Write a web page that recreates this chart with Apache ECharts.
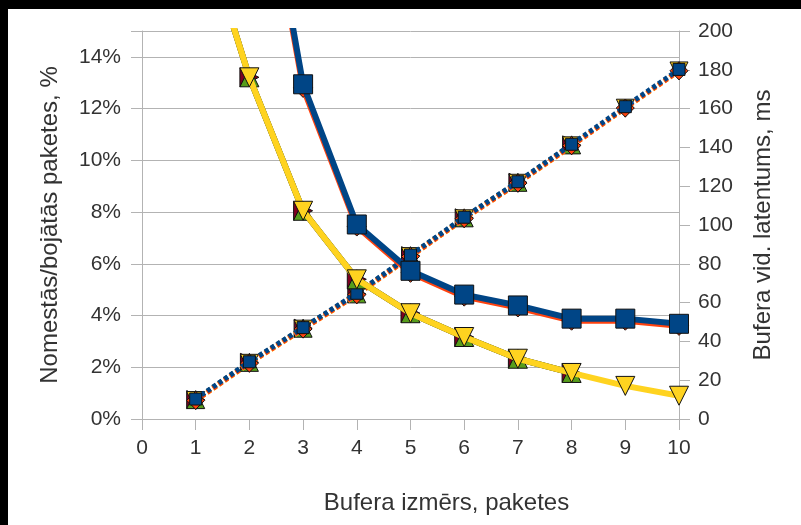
<!DOCTYPE html>
<html>
<head>
<meta charset="utf-8">
<script src="https://cdn.jsdelivr.net/npm/echarts@6/dist/echarts.min.js"></script>
<style>
html,body{margin:0;padding:0;background:#000;}
#wrap{position:absolute;left:0;top:0;width:801px;height:525px;background:#000;}
#chart{position:absolute;left:8px;top:9px;width:793px;height:516px;background:#fff;}
</style>
</head>
<body>
<div id="wrap"><div id="chart"></div></div>
<script>
// ---- data ----
const bufferSizes = [1, 2, 3, 4, 5, 6, 7, 8, 9, 10];
const xTicks = [0, 1, 2, 3, 4, 5, 6, 7, 8, 9, 10];
const leftTicks = [0, 2, 4, 6, 8, 10, 12, 14];
const rightTicks = [0, 20, 40, 60, 80, 100, 120, 140, 160, 180, 200];

// loss (%), left axis
const lossBlue   = [40, 24.6, 12.94, 7.52, 5.73, 4.81, 4.39, 3.88, 3.88, 3.68];
const lossOrange = [40, 24.3, 12.80, 7.44, 5.65, 4.73, 4.31, 3.80, 3.80, 3.60];
const lossYellow = [19.8, 13.21, 8.05, 5.40, 4.09, 3.17, 2.33, 1.78, 1.28, 0.90];
const lossGreen  = [19.8, 13.21, 8.05, 5.40, 4.09, 3.17, 2.33, 1.78];
const lossMaroon = [19.8, 13.21, 8.05, 5.40, 4.09, 3.17, 2.33, 1.78];

// latency (ms), right axis
const latBlue   = [10.3, 29.5, 47.1, 64.8, 84.5, 104.0, 122.3, 141.6, 161.0, 180.2];
const latOrange = [9.6, 28.8, 46.4, 64.1, 83.8, 103.3, 121.6, 140.9, 160.3, 179.5];
const latYellow = [9.5, 28.7, 46.3, 64.0, 83.7, 103.2, 121.5, 140.8, 160.2, 179.4];
const latGreen  = [10.0, 29.2, 46.8, 64.5, 84.2, 103.7, 122.0, 141.3];
const latMaroon = [10.0, 29.2, 46.8, 64.5, 84.2, 103.7, 122.0, 141.3];

const C = {blue:'#004586', orange:'#ff420e', yellow:'#ffd320', green:'#579d1c', maroon:'#7e0021'};
const SYM = {
  square: 'rect',
  diamond: 'diamond',
  down: 'path://M0,0 L10,0 L5,10 Z',
  up: 'path://M5,0 L10,10 L0,10 Z',
  right: 'path://M0,0 L10,5 L0,10 Z'
};
function pts(vals){ return vals.map((v,i)=>[bufferSizes[i], v]); }
function mk(vals, yIdx, color, symbol, size, width, dash, z){
  return {
    type:'line', yAxisIndex:yIdx, data:pts(vals), z:z,
    symbol:SYM[symbol], symbolSize:size, showSymbol:true,
    itemStyle:{color:color, borderColor:'#111', borderWidth:1, opacity:1},
    lineStyle:{color:color, width:width, type:dash || 'solid', cap:'butt', join:'round'},
    emphasis:{disabled:true}, animation:false, clip:true
  };
}

const font = '"Liberation Sans", Arial, sans-serif';
const txt = '#333333';
const gray = '#b3b3b3';

const chart = echarts.init(document.getElementById('chart'), null, {renderer:'canvas'});
chart.setOption({
  backgroundColor:'#ffffff',
  animation:false,
  grid:{left:134, right:122, top:22, bottom:106, containLabel:false},
  xAxis:{
    type:'value', min:xTicks[0], max:xTicks[xTicks.length-1], interval:1,
    name:'Bufera izmērs, paketes', nameLocation:'middle', nameGap:72,
    nameTextStyle:{fontFamily:font, fontSize:24, color:txt, padding:[0,0,0,72]},
    axisLine:{show:true, lineStyle:{color:gray, width:1}},
    axisTick:{show:true, length:11, lineStyle:{color:gray}},
    axisLabel:{margin:19, fontFamily:font, fontSize:21, color:txt},
    splitLine:{show:false}
  },
  yAxis:[
    {
      type:'value', position:'left', min:0, max:15, interval:2,
      name:'Nomestās/bojātās paketes, %', nameLocation:'middle', nameGap:80,
      nameTextStyle:{fontFamily:font, fontSize:24, color:txt},
      axisLine:{show:true, lineStyle:{color:gray, width:1}},
      axisTick:{show:true, length:11, lineStyle:{color:gray}},
      axisLabel:{margin:21, fontFamily:font, fontSize:21, color:txt,
        formatter:v => leftTicks.indexOf(v) >= 0 ? v + '%' : ''},
      splitLine:{show:true, lineStyle:{color:gray, width:1}}
    },
    {
      type:'value', position:'right', min:rightTicks[0], max:rightTicks[rightTicks.length-1], interval:20,
      name:'Bufera vid. latentums, ms', nameLocation:'middle', nameGap:72,
      nameTextStyle:{fontFamily:font, fontSize:24, color:txt},
      axisLine:{show:true, lineStyle:{color:gray, width:1}},
      axisTick:{show:true, length:11, lineStyle:{color:gray}},
      axisLabel:{margin:19, fontFamily:font, fontSize:21, color:txt},
      splitLine:{show:false}
    }
  ],
  series:[
    // latency (dotted)
    mk(latMaroon, 1, C.maroon, 'right', 18, 5, [4,3], 2),
    mk(latGreen, 1, C.green, 'up', 18, 5, [4,3], 3),
    mk(latYellow, 1, C.yellow, 'down', 18, 5, [4,3], 4),
    mk(latOrange, 1, C.orange, 'diamond', 18, 5, [4,3], 5),
    mk(latBlue, 1, C.blue, 'square', 12, 5, [4,3], 6),
    // loss
    mk(lossMaroon, 0, C.maroon, 'right', 19, 6, 'solid', 7),
    mk(lossGreen, 0, C.green, 'up', 19, 6, 'solid', 8),
    mk(lossYellow, 0, C.yellow, 'down', 19, 6, 'solid', 9),
    mk(lossOrange, 0, C.orange, 'diamond', 19, 6, 'solid', 10),
    mk(lossBlue, 0, C.blue, 'square', 19, 6, 'solid', 11)
  ]
});
</script>
</body>
</html>
